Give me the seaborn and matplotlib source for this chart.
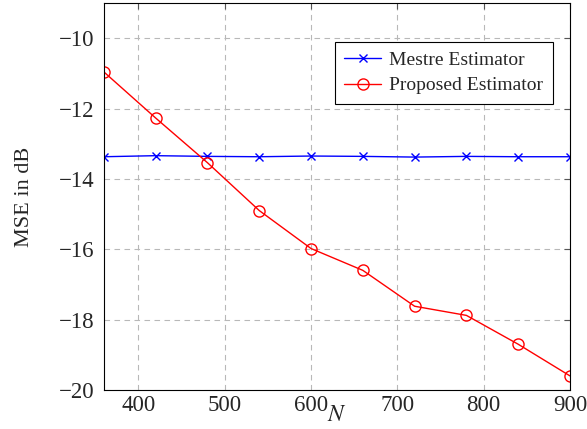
import numpy as np
import pandas as pd
import seaborn as sns
import matplotlib.pyplot as plt

N = [360, 420, 480, 540, 600, 660, 720, 780, 840, 900]
mestre = [-13.37, -13.34, -13.36, -13.37, -13.35, -13.36, -13.38, -13.36, -13.37, -13.37]
proposed = [-10.96, -12.27, -13.54, -14.9, -15.98, -16.6, -17.62, -17.88, -18.7, -19.6]
labels = ["Mestre Estimator", "Proposed Estimator"]

sns.set_style("white")
plt.rcParams["font.family"] = ["Liberation Serif", "DejaVu Serif"]
plt.rcParams["mathtext.fontset"] = "stix"

fig = plt.figure(figsize=(5.87, 4.29), dpi=100)
ax = fig.add_axes([0.177, 0.091, 0.794, 0.902])

# two calls: seaborn won't mix 'x' and 'o' in one style mapping
sns.lineplot(x=N, y=mestre, color="blue", marker="x", ms=5.5, mew=1,
             mec="blue", lw=1, label=labels[0], ax=ax)
sns.lineplot(x=N, y=proposed, color="red", marker="o", ms=8, mew=1,
             mfc="none", mec="red", lw=1, label=labels[1], ax=ax)

ax.set_xlim(360, 900)
ax.set_ylim(-20, -9)
ax.set_xticks([400, 500, 600, 700, 800, 900])
ax.set_yticks([-20, -18, -16, -14, -12, -10])
ax.grid(True, color="#b8b8b8", ls=(0, (5, 4)), lw=0.8)
ax.tick_params(direction="in", length=4, labelsize=16.5, color="#555555",
               top=True, right=True)
ax.tick_params(axis="y", pad=7)
for s in ax.spines.values():
    s.set_color("black")
    s.set_linewidth(0.8)

ax.set_xlabel("$N$", fontsize=17, labelpad=-8)
ax.set_ylabel("MSE in dB", fontsize=16, labelpad=18)

leg = ax.legend(loc="upper right", bbox_to_anchor=(0.963, 0.9), borderaxespad=0,
                fontsize=14, fancybox=False, edgecolor="black", framealpha=1,
                handlelength=1.9, handletextpad=0.4, borderpad=0.5,
                labelspacing=0.4)
leg.get_frame().set_linewidth(0.8)

fig.savefig("out.png", dpi=100)
